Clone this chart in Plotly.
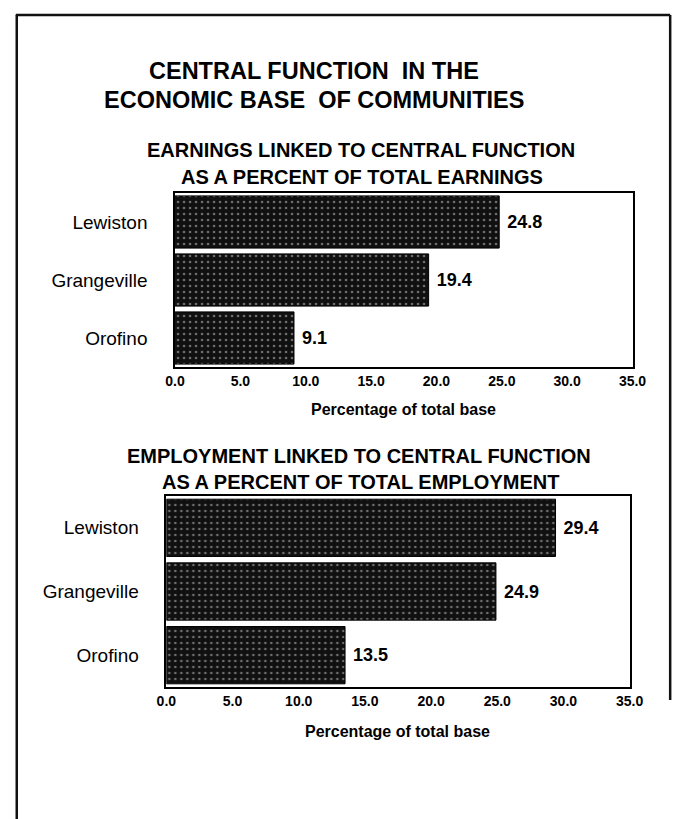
import plotly.graph_objects as go

# Communities and shares of the economic base tied to central function (%)
communities = ["Lewiston", "Grangeville", "Orofino"]
earnings_pct = [24.8, 19.4, 9.1]
employment_pct = [29.4, 24.9, 13.5]
tick_vals = [0, 5, 10, 15, 20, 25, 30, 35]
tick_text = ["0.0", "5.0", "10.0", "15.0", "20.0", "25.0", "30.0", "35.0"]

W, H = 689, 819
FONT = "Liberation Sans, Arial, sans-serif"


def px_x(v):
    return v / W


def px_y(v):
    return 1 - v / H


bar_pattern = dict(shape=".", bgcolor="#101010", fgcolor="#6e6e6e",
                   size=6, solidity=0.15, fillmode="replace")


def bar_trace(values, xa, ya):
    return go.Bar(
        x=values, y=communities, orientation="h", xaxis=xa, yaxis=ya,
        marker=dict(color="#101010", line=dict(color="#000", width=1), pattern=bar_pattern),
        texttemplate=" %{x:.1f}", textposition="outside",
        textfont=dict(family=FONT, size=18, color="#000", weight="bold"),
        cliponaxis=False, showlegend=False, hoverinfo="x+y",
    )


fig = go.Figure()
fig.add_trace(bar_trace(earnings_pct, "x", "y"))
fig.add_trace(bar_trace(employment_pct, "x2", "y2"))

xaxis_common = dict(
    range=[0, 35], tickvals=tick_vals, ticktext=tick_text,
    tickfont=dict(family=FONT, size=14, color="#000", weight="bold"),
    showgrid=False, zeroline=False, showline=True, linecolor="#000",
    linewidth=2, mirror=True, ticks="", fixedrange=True,
)
yaxis_common = dict(
    categoryorder="array", categoryarray=communities, autorange="reversed",
    tickfont=dict(family=FONT, size=19, color="#000"),
    showgrid=False, zeroline=False, showline=True, linecolor="#000",
    linewidth=1.5, mirror=True, ticks="", ticklabelstandoff=22, fixedrange=True,
)

fig.update_layout(
    width=W, height=H,
    margin=dict(l=0, r=0, t=0, b=0),
    paper_bgcolor="#fff", plot_bgcolor="#fff",
    bargap=0.1,
    xaxis=dict(domain=[px_x(171), px_x(645)], anchor="y", **xaxis_common),
    yaxis=dict(domain=[px_y(367), px_y(193)], anchor="x", **yaxis_common),
    xaxis2=dict(domain=[px_x(162), px_x(642)], anchor="y2", **xaxis_common),
    yaxis2=dict(domain=[px_y(687), px_y(496)], anchor="x2", **yaxis_common),
)

# Headings and axis captions
texts = [
    ("<b>CENTRAL FUNCTION  IN THE</b>", 315, 71, 23.5),
    ("<b>ECONOMIC BASE  OF COMMUNITIES</b>", 315, 100, 23.5),
    ("<b>EARNINGS LINKED TO CENTRAL FUNCTION</b>", 364, 150, 20),
    ("<b>AS A PERCENT OF TOTAL EARNINGS</b>", 365, 177, 20),
    ("<b>EMPLOYMENT LINKED TO CENTRAL FUNCTION</b>", 362, 456, 20),
    ("<b>AS A PERCENT OF TOTAL EMPLOYMENT</b>", 363, 482, 20),
    ("<b>Percentage of total base</b>", 408, 409, 16),
    ("<b>Percentage of total base</b>", 402, 731, 16),
]
for txt, cx, cy, size in texts:
    fig.add_annotation(
        text=txt, x=px_x(cx), y=px_y(cy), xref="paper", yref="paper",
        xanchor="center", yanchor="middle", showarrow=False,
        font=dict(family=FONT, size=size, color="#000"),
    )

# Page frame
frame = dict(type="line", xref="paper", yref="paper", line=dict(color="#111", width=2.5))
fig.add_shape(x0=px_x(6), x1=px_x(684), y0=px_y(15), y1=px_y(15), **frame)
fig.add_shape(x0=px_x(7), x1=px_x(7), y0=px_y(15), y1=px_y(819), **frame)
fig.add_shape(x0=px_x(684), x1=px_x(684), y0=px_y(15), y1=px_y(700), **frame)

fig.write_html("out.html")
